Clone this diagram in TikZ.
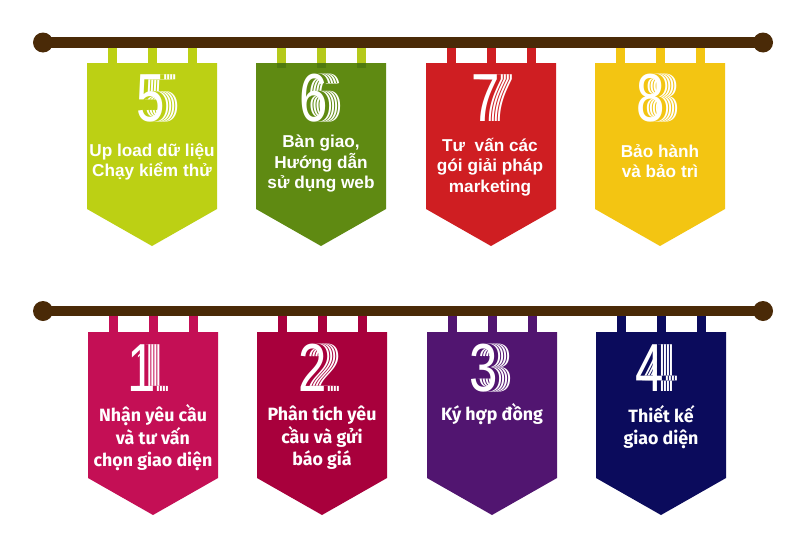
\documentclass[tikz,border=0pt]{standalone}
\usepackage{graphicx}
\usepackage{fontspec}
\setmainfont{Liberation Sans}
\newfontfamily\firafont{Fira Sans}
\definecolor{rodc}{HTML}{4A2A07}
\definecolor{cfive}{HTML}{BCD014}
\definecolor{csix}{HTML}{5F8A12}
\definecolor{cseven}{HTML}{CF1E22}
\definecolor{ceight}{HTML}{F3C512}
\definecolor{cone}{HTML}{C40F55}
\definecolor{ctwo}{HTML}{A8003C}
\definecolor{cthree}{HTML}{511570}
\definecolor{cfour}{HTML}{0B0B5C}
\definecolor{tabsix}{HTML}{B5C91A}
\definecolor{tabsixdark}{HTML}{4F7A10}
\newcommand\flagshape[4]{% left, top, colour, name
  \fill[#3] (#1,#2) coordinate (#4) -- ++(130,0) -- ++(0,146) -- ++(-65,37) -- ++(-65,-37) -- cycle;}
\newcommand\flagtabs[4]{% left, rod y, top, colour
  \foreach \t in {21,61,101}{\fill[#4] (#1+\t,#3) rectangle (#1+\t+9,#2);}}
\newcommand\echolayer[3]{\makebox[0pt][l]{\hspace{#1}\textcolor{#2}{#3}}}
\newcommand\stripesfor[2]{% colour, digit
  \echolayer{19pt}{white}{#2}\echolayer{17.3pt}{#1}{#2}%
  \echolayer{15pt}{white}{#2}\echolayer{13.3pt}{#1}{#2}%
  \echolayer{11pt}{white}{#2}\echolayer{9.3pt}{#1}{#2}%
  \echolayer{7pt}{white}{#2}\echolayer{5.3pt}{#1}{#2}%
  \textcolor{white}{#2}}
\newcommand\echodigit[5]{% x, y, colour, digit, name
  \node[digitstyle] (#5) at (#1,#2) {\scalebox{0.75}[1]{\stripesfor{#3}{#4}}};}
\begin{document}
\begin{tikzpicture}[x=1pt,y=-1pt,
  rod/.style={draw=rodc,line width=10.5pt},
  digitstyle/.style={inner sep=0pt,font=\fontsize{68}{68}\selectfont},
  toplabel/.style={text=white,align=center,inner sep=0pt,font=\bfseries\fontsize{17.2}{20.5}\selectfont},
  botlabel/.style={text=white,align=center,inner sep=0pt,font=\firafont\bfseries\fontsize{17.8}{22.5}\selectfont}]
\useasboundingbox[fill=white] (0,0) rectangle (800,533);
% ---------- top row ----------
\flagtabs{87}{42}{63}{cfive}
\flagtabs{256}{42}{63}{tabsix}
\flagtabs{426}{42}{63}{cseven}
\flagtabs{595}{42}{63}{ceight}
\draw[rod] (43,42.5) coordinate (rodAl) -- (763,42.5) coordinate (rodAr);
\fill[rodc] (rodAl) circle (10pt);
\fill[rodc] (rodAr) circle (10pt);
\flagshape{87}{63}{cfive}{b5}
\flagshape{256}{63}{csix}{b6}
\flagshape{426}{63}{cseven}{b7}
\flagshape{595}{63}{ceight}{b8}
\foreach \t in {21,61,101}{\fill[tabsixdark] (256+\t,63) rectangle (256+\t+9,68);}
\echodigit{151}{98}{cfive}{5}{d5}
\echodigit{314}{98}{csix}{6}{d6}
\echodigit{486}{98}{cseven}{7}{d7}
\echodigit{651}{98}{ceight}{8}{d8}
\node[toplabel] (t5) at (152,162) {Up load dữ liệu\\Chạy kiểm thử};
\node[toplabel] (t6) at (321,164) {Bàn giao,\\Hướng dẫn\\sử dụng web};
\node[toplabel] (t7) at (490,167) {Tư\ \ vấn các\\gói giải pháp\\marketing};
\node[toplabel] (t8) at (660,161) {Bảo hành\\và bảo trì};
% ---------- bottom row ----------
\flagtabs{88}{311}{332}{cone}
\flagtabs{257}{311}{332}{ctwo}
\flagtabs{427}{311}{332}{cthree}
\flagtabs{596}{311}{332}{cfour}
\draw[rod] (43,311) coordinate (rodBl) -- (763,311) coordinate (rodBr);
\fill[rodc] (rodBl) circle (10pt);
\fill[rodc] (rodBr) circle (10pt);
\flagshape{88}{332}{cone}{b1}
\flagshape{257}{332}{ctwo}{b2}
\flagshape{427}{332}{cthree}{b3}
\flagshape{596}{332}{cfour}{b4}
\echodigit{142}{368}{cone}{1}{d1}
\echodigit{313}{368}{ctwo}{2}{d2}
\echodigit{484}{368}{cthree}{3}{d3}
\echodigit{650}{368}{cfour}{4}{d4}
\node[botlabel] (t1) at (153,438) {Nhận yêu cầu\\và tư vấn\\chọn giao diện};
\node[botlabel] (t2) at (322,438) {Phân tích yêu\\cầu và gửi\\báo giá};
\node[botlabel] (t3) at (492,414) {Ký hợp đồng};
\node[botlabel] (t4) at (661,427) {Thiết kế\\giao diện};
\end{tikzpicture}
\end{document}
